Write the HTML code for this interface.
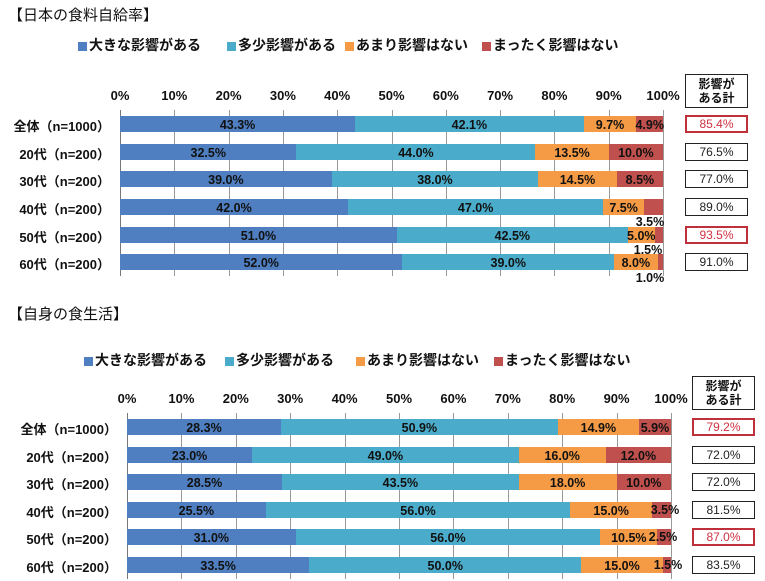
<!DOCTYPE html><html><head><meta charset="utf-8"><style>
body{margin:0;width:765px;height:581px;background:#fff;position:relative;overflow:hidden;font-family:"Liberation Sans","Noto Sans CJK JP",sans-serif;color:#111}
div{position:absolute;box-sizing:border-box}
.t{font-size:14px;white-space:nowrap}
.b{font-weight:bold;font-size:12.5px;white-space:nowrap}
.lab{font-weight:bold;font-size:12.5px;text-align:center;line-height:16px}
.box{display:flex;align-items:center;justify-content:center;font-size:12px}
</style></head><body>
<div class="t" style="left:8px;top:4px;font-size:15px">【日本の食料自給率】</div>
<div class="t" style="left:8px;top:303px;font-size:15px">【自身の食生活】</div>
<script>
const C=['#4f7fc0','#4aacca','#f59a45','#c0504d'];
const L=['大きな影響がある','多少影響がある','あまり影響はない','まったく影響はない'];
const rows=['全体（n=1000）','20代（n=200）','30代（n=200）','40代（n=200）','50代（n=200）','60代（n=200）'];
function chart(o){
 let h='';
 o.leg.forEach((x,i)=>{h+=`<div style="left:${x}px;top:${o.ly+4}px;width:9px;height:9px;background:${C[i]}"></div><div class="t" style="left:${x+11}px;top:${o.ly-3}px;font-weight:bold;font-size:14px">${L[i]}</div>`});
 const w=o.x1-o.x0;
 for(let k=0;k<=10;k++){let x=o.x0+w*k/10;
  h+=`<div class="b" style="left:${x-25}px;width:50px;text-align:center;top:${o.ty}px;font-size:13px">${k*10}%</div>`;
  h+=`<div style="left:${x}px;top:${o.by[0]-6}px;width:1px;height:${o.by[5]-o.by[0]+o.bh+12}px;background:#999"></div>`;}
 h+=`<div style="left:${o.x0}px;top:${o.by[0]-6}px;width:1px;height:${o.by[5]-o.by[0]+o.bh+12}px;background:#777"></div>`;
 o.d.forEach((r,j)=>{let y=o.by[j],acc=0;
  h+=`<div class="b" style="right:${765-o.x0+10}px;top:${y}px;font-size:13px">${rows[j]}</div>`;
  r.forEach((v,i)=>{let x=o.x0+w*acc/100,ww=w*v/100;acc+=v;
   h+=`<div style="left:${x}px;top:${y}px;width:${ww+0.5}px;height:${o.bh}px;background:${C[i]}"></div>`;
   let lbl=o.lab[j][i];
   if(Array.isArray(lbl)){h+=`<div class="lab" style="left:${lbl[0]-25}px;width:50px;top:${lbl[1]}px">${v.toFixed(1)}%</div>`;}
   else h+=`<div class="lab" style="left:${x+ww/2-25}px;width:50px;top:${y+1}px">${v.toFixed(1)}%</div>`;});
  let red=o.red.includes(j);
  h+=`<div class="box" style="left:${o.bx}px;top:${y-1}px;width:63px;height:${o.bh+2}px;border:${red?2:1.5}px solid ${red?'#c0303a':'#222'};color:${red?'#d03040':'#222'}">${o.tot[j]}</div>`;
 });
 h+=`<div style="left:${o.bx}px;top:${o.hy}px;width:63px;height:34px;border:1.5px solid #222;font-size:12px;font-weight:bold;text-align:center;line-height:14px;padding-top:2px">影響が<br>ある計</div>`;
 document.body.insertAdjacentHTML('beforeend',h);
}
chart({x0:120,x1:663,ly:38,leg:[78,227,345,482],ty:88,by:[116,144,171,199,227,254],bh:16,bx:685,hy:74,red:[0,4],
 d:[[43.3,42.1,9.7,4.9],[32.5,44.0,13.5,10.0],[39.0,38.0,14.5,8.5],[42.0,47.0,7.5,3.5],[51.0,42.5,5.0,1.5],[52.0,39.0,8.0,1.0]],
 lab:[[0,0,0,0],[0,0,0,0],[0,0,0,0],[0,0,0,[650,214]],[0,0,0,[648,242]],[0,0,0,[650,270]]],
 tot:['85.4%','76.5%','77.0%','89.0%','93.5%','91.0%']});
chart({x0:127,x1:671,ly:353,leg:[84,225,356,494],ty:391,by:[419,447,474,502,529,557],bh:16,bx:692,hy:376,red:[0,4],
 d:[[28.3,50.9,14.9,5.9],[23.0,49.0,16.0,12.0],[28.5,43.5,18.0,10.0],[25.5,56.0,15.0,3.5],[31.0,56.0,10.5,2.5],[33.5,50.0,15.0,1.5]],
 lab:[[0,0,0,0],[0,0,0,0],[0,0,0,0],[0,0,0,[665,502]],[0,0,0,[663,529]],[0,0,0,[668,557]]],
 tot:['79.2%','72.0%','72.0%','81.5%','87.0%','83.5%']});
</script>
</body></html>
